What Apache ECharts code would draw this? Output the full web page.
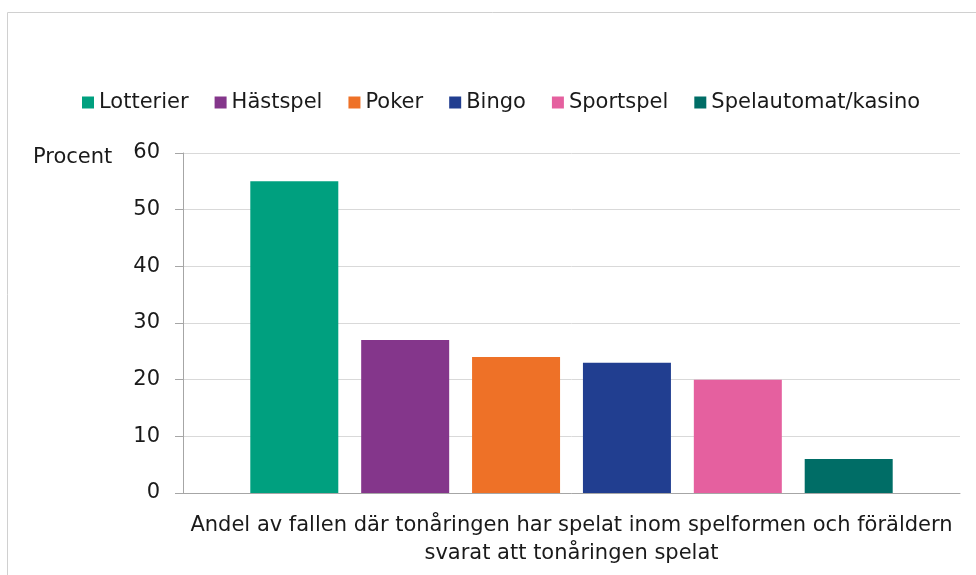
<!DOCTYPE html>
<html>
<head>
<meta charset="utf-8">
<script src="https://cdn.jsdelivr.net/npm/echarts@6/dist/echarts.min.js"></script>
<style>
  html, body { margin: 0; padding: 0; background: #fff; }
  #chart { width: 976px; height: 575px; }
</style>
</head>
<body>
<div id="chart"></div>
<script>
// kategori (en enda grupp) och spelformer
const categories = ['Andel av fallen där tonåringen har spelat inom spelformen och föräldern svarat att tonåringen spelat'];
const seriesNames = ['Lotterier', 'Hästspel', 'Poker', 'Bingo', 'Sportspel', 'Spelautomat/kasino'];
const seriesValues = [55, 27, 24, 23, 20, 6];
const seriesColors = ['#00a07f', '#84368b', '#ee7127', '#213e90', '#e5609f', '#006d66'];
const yTicks = [0, 10, 20, 30, 40, 50, 60];

const font = 'DejaVu Sans';
const fs = 21;

let series = seriesNames.map(function (name, i) {
  return {
    name: name,
    type: 'bar',
    barWidth: 88,
    barGap: '26%',
    itemStyle: { color: seriesColors[i] },
    data: [seriesValues[i]]
  };
});

let option = {
  animation: false,
  textStyle: { fontFamily: font },
  graphic: [
    {
      type: 'rect',
      left: 5, top: 10,
      shape: { width: 1000, height: 600 },
      style: { fill: 'none', stroke: '#d0d0d0', lineWidth: 1 }
    },
    {
      type: 'text',
      left: 33, top: 147,
      style: { text: 'Procent', fontFamily: font, fontSize: fs, fill: '#1a1a1a' }
    }
  ],
  legend: {
    data: seriesNames,
    left: 82,
    top: 92,
    padding: 0,
    itemWidth: 12,
    itemHeight: 12,
    itemGap: 26,
    icon: 'rect',
    textStyle: { fontFamily: font, fontSize: fs, color: '#1a1a1a' }
  },
  grid: { left: 183, right: 16, top: 153, bottom: 82, containLabel: false },
  xAxis: {
    type: 'category',
    data: categories,
    axisLine: { lineStyle: { color: '#a6a6a6', width: 1 } },
    axisTick: { show: false },
    axisLabel: {
      fontFamily: font,
      fontSize: fs,
      color: '#1a1a1a',
      lineHeight: 28,
      margin: 19,
      formatter: function (v) { return v.replace(' svarat', '\nsvarat'); }
    }
  },
  yAxis: {
    type: 'value',
    min: yTicks[0],
    max: yTicks[yTicks.length - 1],
    interval: 10,
    axisLine: { show: true, lineStyle: { color: '#a6a6a6', width: 1 } },
    axisTick: { show: true, inside: false, length: 8, lineStyle: { color: '#a6a6a6' } },
    axisLabel: { fontFamily: font, fontSize: fs, color: '#1a1a1a', margin: 23 },
    splitLine: { show: true, lineStyle: { color: '#d9d9d9', width: 1 } }
  },
  series: series
};

let myChart = echarts.init(document.getElementById('chart'));
myChart.setOption(option);
</script>
</body>
</html>
